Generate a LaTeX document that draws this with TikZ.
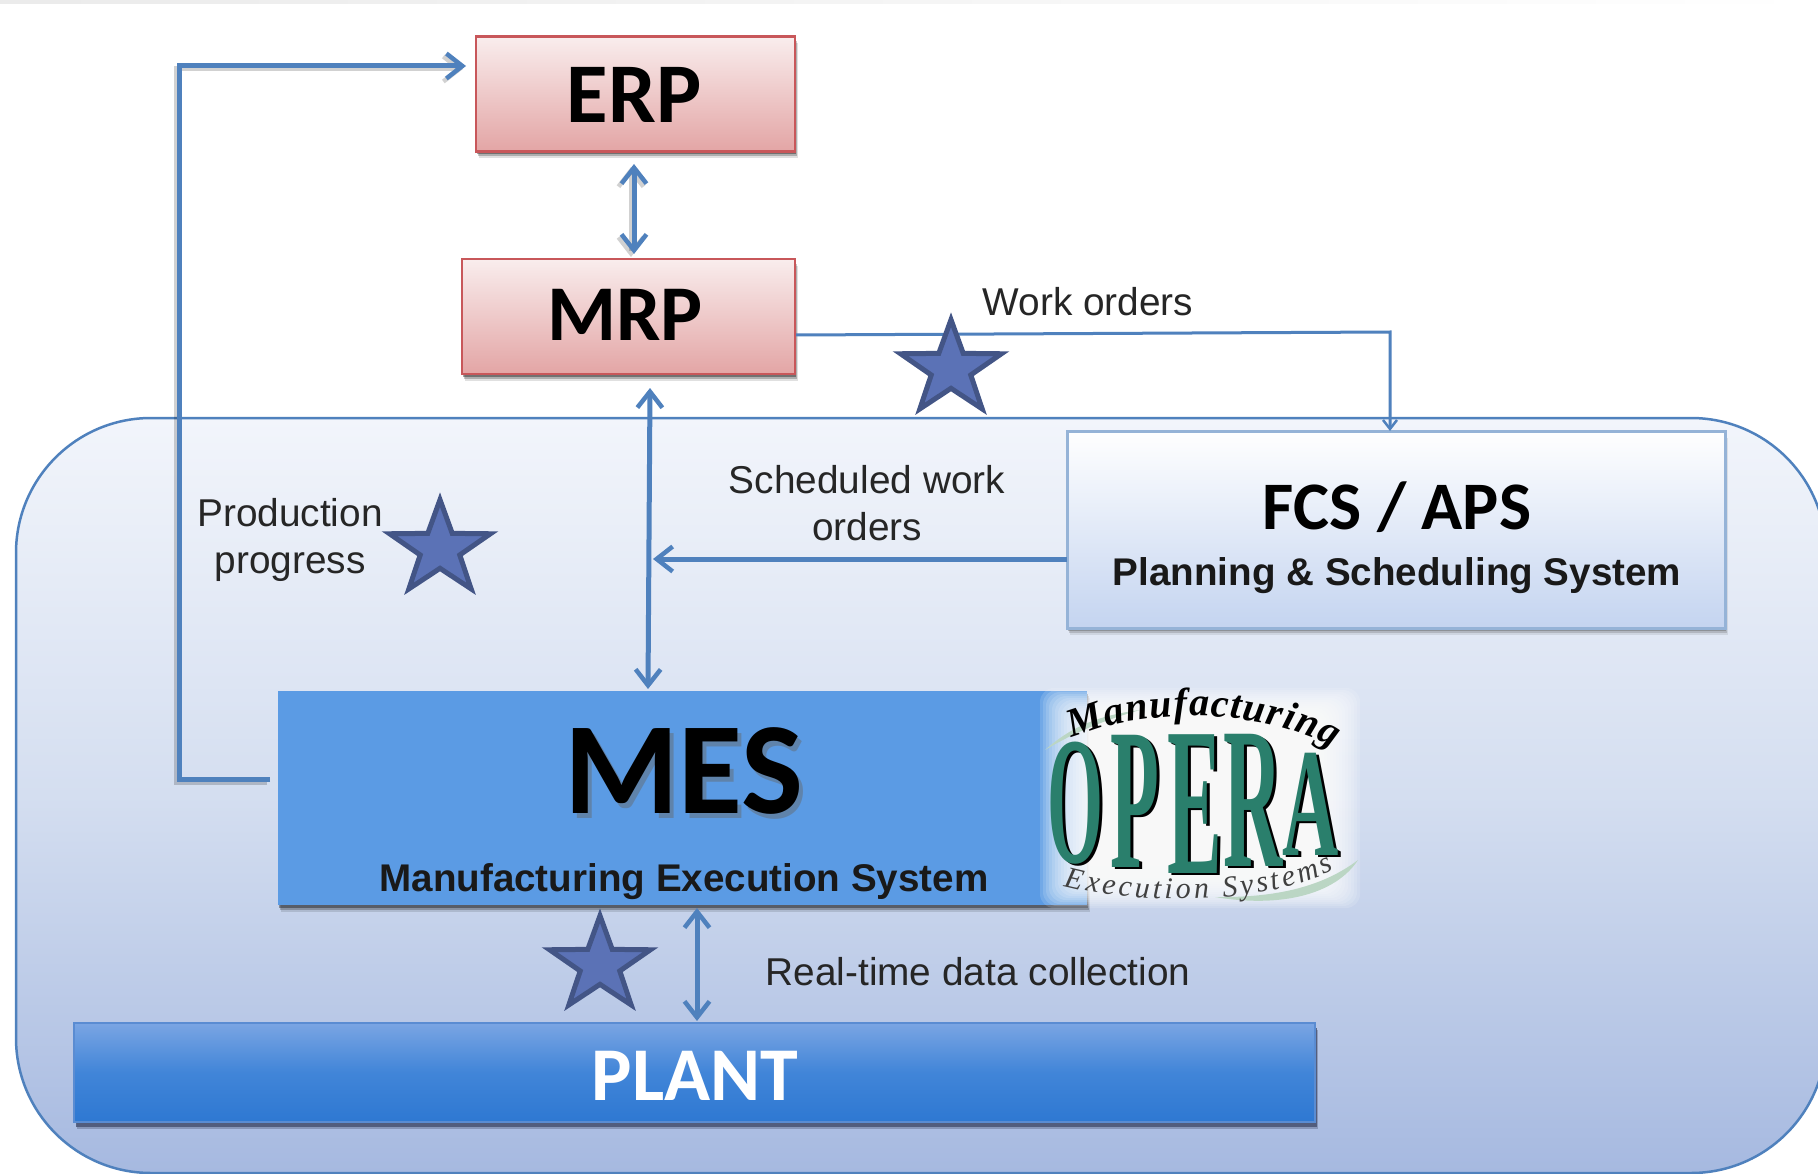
\documentclass[tikz,border=0pt]{standalone}
\usepackage{fontspec}
\setmainfont{Liberation Sans}
\newfontfamily\calib{Carlito}
\newfontfamily\opserif{Liberation Serif}
\usetikzlibrary{shapes.geometric,shadows,arrows.meta,decorations.text}
\definecolor{linkblue}{HTML}{4F81BD}
\definecolor{redb}{HTML}{C8575A}
\definecolor{redtop}{HTML}{F9EDED}
\definecolor{redbot}{HTML}{E3A5A5}
\definecolor{regtop}{HTML}{F2F5FB}
\definecolor{regmid}{HTML}{D4DEF0}
\definecolor{regbot}{HTML}{A6B9E0}
\definecolor{fcsbot}{HTML}{C4D4F0}
\definecolor{mesfill}{HTML}{5B9BE4}
\definecolor{plantdraw}{HTML}{5A8CD2}
\definecolor{planttop}{HTML}{7AA5E3}
\definecolor{plantmid}{HTML}{4185D8}
\definecolor{plantbot}{HTML}{2E78D2}
\definecolor{starfill}{HTML}{5B72B6}
\definecolor{stardraw}{HTML}{435586}
\definecolor{opgreen}{HTML}{2A7F6C}
\definecolor{swoosh}{HTML}{BBD6C4}
\definecolor{plantshadow}{HTML}{454F6E}
\tikzset{
  softshadow/.style={general shadow={shadow xshift=3pt,shadow yshift=-7pt,fill=#1,opacity=.12},
                     general shadow={shadow xshift=2pt,shadow yshift=-5pt,fill=#1,opacity=.22},
                     general shadow={shadow xshift=1pt,shadow yshift=-3pt,fill=#1,opacity=.35}},
  redbox/.style={rectangle,draw=redb,line width=2.5pt,top color=redtop,bottom color=redbot,
     softshadow=black,minimum height=115pt,inner sep=0pt},
  lineshade/.style={preaction={draw=black,draw opacity=.18,line width=5pt,transform canvas={xshift=-3pt,yshift=-3pt}}},
  link/.style={draw=linkblue,line width=5pt},
  biarrow/.style={link,{Straight Barb[length=16pt,width=25pt,line width=4.5pt]}-{Straight Barb[length=16pt,width=25pt,line width=4.5pt]}},
  onearrow/.style={link,-{Straight Barb[length=16pt,width=25pt,line width=4.5pt]}},
  thinlink/.style={draw=linkblue,line width=3pt,-{Straight Barb[length=9pt,width=14pt,line width=2.5pt]}},
  flag/.style={star,star points=5,star point ratio=2.55,minimum size=106pt,inner sep=0pt,
     fill=starfill,draw=stardraw,line width=5pt,yscale=.93},
  lbl/.style={font=\fontsize{38.8}{47}\selectfont,text=black!85,align=center,inner sep=0pt},
  boxtitle/.style={font=\calib\bfseries\fontsize{#1}{#1}\selectfont,text=black,inner sep=0pt},
  subtitle/.style={font=\bfseries\fontsize{38.6}{40}\selectfont,text=black!90,inner sep=0pt},
  opl/.style={font=\opserif\bfseries\fontsize{100}{100}\selectfont,inner sep=0pt,transform shape,text=opgreen},
  opd/.style={font=\opserif\bfseries\fontsize{100}{100}\selectfont,inner sep=0pt,transform shape,text=black},
}
\begin{document}
\begin{tikzpicture}[x=1pt,y=-1pt]
\useasboundingbox (0,0) rectangle (1818,1174);
\fill[white] (0,0) rectangle (1818,1174);
\shade[left color=black!8,right color=white] (0,0) rectangle (1818,4);

% region
\path[draw=linkblue,line width=2.5pt,rounded corners=135pt,top color=regtop,bottom color=regbot,middle color=regmid]
  (16,418) rectangle (1826,1173);

% boxes
\node[redbox,minimum width=319pt] (erp) at (635.5,94) {};
\node[redbox,minimum width=333pt] (mrp) at (628.5,316.5) {};
\node[boxtitle=85] (erpt) at (634,95) {ERP};
\node[boxtitle=79] (mrpt) at (625,315) {MRP};

\node[rectangle,draw=linkblue!60!white,line width=3pt,top color=white,bottom color=fcsbot,
  softshadow=black!70,minimum width=658pt,minimum height=197pt,inner sep=0pt] (fcs) at (1396,529.5) {};
\node[boxtitle=68] (fcst) at (1397,507) {FCS / APS};
\node[subtitle] (fcss) at (1397,576) {Planning \& Scheduling System};

\node[rectangle,fill=mesfill,softshadow=black,minimum width=809pt,minimum height=214pt,inner sep=0pt] (mes) at (682.5,798) {};
\node[font=\calib\bfseries\fontsize{131}{131}\selectfont,text=black!60,inner sep=0pt,opacity=.45] (mess) at (688,776) {MES};
\node[font=\calib\bfseries\fontsize{131}{131}\selectfont,text=black,inner sep=0pt] (mest) at (684,771) {MES};
\node[subtitle] (mess2) at (684,882) {Manufacturing Execution System};

\node[rectangle,draw=plantdraw,line width=2pt,top color=planttop,bottom color=plantbot,middle color=plantmid,
  general shadow={shadow xshift=3pt,shadow yshift=-7pt,fill=plantshadow,opacity=.35},
  general shadow={shadow xshift=2pt,shadow yshift=-5pt,fill=plantshadow,opacity=.8},minimum width=1241pt,minimum height=99pt,inner sep=0pt] (plant) at (694.5,1072.5) {};
\node[font=\calib\bfseries\fontsize{76}{76}\selectfont,text=white,inner sep=0pt] (plantt) at (695,1076) {PLANT};

% connectors
\coordinate (pa) at (179,779);
\coordinate (pb) at (179,66);
\coordinate (pc) at (466,66);
\coordinate (mesl) at (270,779);
\draw[onearrow,lineshade] (mesl) -- (pa) -- (pb) -- (pc);
\coordinate (e1) at (634,164); \coordinate (e2) at (634,254);
\draw[biarrow,lineshade] (e1) -- (e2);
\coordinate (m1) at (650,388); \coordinate (m2) at (648,689);
\draw[biarrow] (m1) -- (m2);
\coordinate (s1) at (1067,559); \coordinate (s2) at (653,559);
\draw[onearrow] (s1) -- (s2);
\coordinate (w1) at (796,335); \coordinate (w2) at (1390,332); \coordinate (w3) at (1390,431);
\draw[thinlink] (w1) -- (w2) -- (w3);
\coordinate (r1) at (697,908); \coordinate (r2) at (697,1021);
\draw[biarrow] (r1) -- (r2);

% labels
\node[lbl] (wo) at (1088,302) {Work orders};
\node[lbl] (swo) at (867,503) {Scheduled work\\orders};
\node[lbl] (pp) at (290,540) {Production\\progress};
\node[lbl] (rt) at (978,972) {Real-time data collection};

% stars
\node[flag] (sa) at (951,369) {};
\node[flag] (sb) at (440,549) {};
\node[flag] (sc) at (600,965) {};

% logo
\foreach \i in {0,...,15}{
  \fill[white,opacity=.14,rounded corners=14pt] (1040+3*\i,688+2*\i) rectangle (1360-3*\i,908-2*\i);
}
\fill[swoosh] (1045,750) .. controls (1070,728) and (1095,716) .. (1140,710) .. controls (1105,720) and (1075,732) .. (1045,750) -- cycle;
\fill[swoosh] (1215,897) .. controls (1280,898) and (1325,885) .. (1358,860) .. controls (1335,895) and (1280,908) .. (1215,897) -- cycle;
\node[opd,xscale=.72,yscale=1.82] (o1) at (1078,805) {O};
\node[opl,xscale=.72,yscale=1.82] (o2) at (1075,803) {O};
\node[opd,xscale=.80,yscale=2.02] (p1) at (1138,803) {P};
\node[opl,xscale=.80,yscale=2.02] (p2) at (1135,801) {P};
\node[opd,xscale=.82,yscale=2.12] (e3) at (1198,806) {E};
\node[opl,xscale=.82,yscale=2.12] (e4) at (1195,804) {E};
\node[opd,xscale=.82,yscale=2.02] (r3) at (1256,802) {R};
\node[opl,xscale=.82,yscale=2.02] (r4) at (1253,800) {R};
\node[opd,xscale=.78,yscale=1.55] (a1) at (1314,806) {A};
\node[opl,xscale=.78,yscale=1.55] (a2) at (1311,804) {A};
\path[postaction={decorate,decoration={text along path,text align={fit to path},
   text={|\opserif\bfseries\itshape\fontsize{40}{40}\selectfont|Manufacturing}}}]
   (1072,738) .. controls (1130,712) and (1250,702) .. (1333,748);
\path[postaction={decorate,decoration={text along path,text align={fit to path},
   text={|\opserif\itshape\fontsize{30}{30}\selectfont\color{black!75}|Execution Systems}}}]
   (1064,886) .. controls (1130,904) and (1260,907) .. (1334,870);
\end{tikzpicture}
\end{document}
